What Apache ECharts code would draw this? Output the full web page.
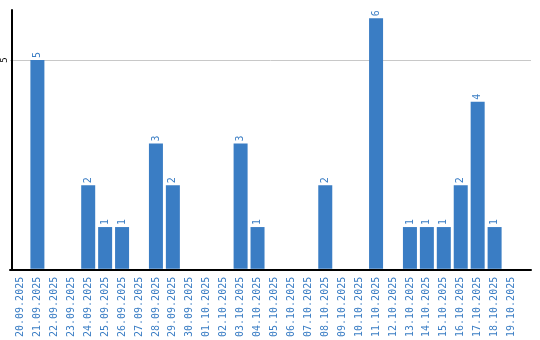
<!DOCTYPE html>
<html><head><meta charset="utf-8">
<script src="https://cdn.jsdelivr.net/npm/echarts@6/dist/echarts.min.js"></script>
<style>html,body{margin:0;padding:0;background:#fff}#c{width:540px;height:340px}</style>
</head><body><div id="c"></div>
<script>
const categories = ["20.09.2025","21.09.2025","22.09.2025","23.09.2025","24.09.2025","25.09.2025","26.09.2025","27.09.2025","28.09.2025","29.09.2025","30.09.2025","01.10.2025","02.10.2025","03.10.2025","04.10.2025","05.10.2025","06.10.2025","07.10.2025","08.10.2025","09.10.2025","10.10.2025","11.10.2025","12.10.2025","13.10.2025","14.10.2025","15.10.2025","16.10.2025","17.10.2025","18.10.2025","19.10.2025"];
const values = [0,5,0,0,2,1,1,0,3,2,0,0,0,3,1,0,0,0,2,0,0,6,0,1,1,1,2,4,1,0];
const yTicks = [5];
const blue = '#3a7dc4';
const H = 340, TOP = 10, BOTTOM = 70, YMAX = 6.2;
const plotH = H - TOP - BOTTOM;
const gridLineTop = TOP + plotH * (1 - yTicks[0] / YMAX);
const chart = echarts.init(document.getElementById('c'));
chart.setOption({
  animation: false,
  grid: [
    {left: 10, right: 20, top: TOP, bottom: BOTTOM, containLabel: false},
    {left: 10, right: 9, top: gridLineTop, bottom: BOTTOM, containLabel: false}
  ],
  xAxis: [{
    type: 'category', data: categories, gridIndex: 0,
    axisLine: {show: false},
    axisTick: {show: false},
    axisLabel: {rotate: 90, color: blue, fontFamily: 'DejaVu Sans Mono', fontSize: 10, interval: 0, margin: 8}
  }, {
    type: 'value', gridIndex: 1, min: 0, max: 1,
    axisLine: {show: true, onZero: false, lineStyle: {color: '#000', width: 2}},
    axisTick: {show: false}, axisLabel: {show: false}, splitLine: {show: false}
  }],
  yAxis: [{
    type: 'value', gridIndex: 0, min: 0, max: YMAX, interval: 5,
    axisLine: {show: true, lineStyle: {color: '#000', width: 2}},
    axisTick: {show: false},
    splitLine: {show: false},
    axisLabel: {rotate: 90, color: '#000', fontFamily: 'DejaVu Sans Mono', fontSize: 9, margin: 3,
      formatter: v => yTicks.includes(v) ? String(v) : ''}
  }, {
    type: 'value', gridIndex: 1, min: 0, max: yTicks[0], interval: yTicks[0],
    axisLine: {show: false}, axisTick: {show: false}, axisLabel: {show: false},
    splitLine: {show: true, lineStyle: {color: '#c8c8c8', width: 1}}
  }],
  series: [{
    type: 'bar', xAxisIndex: 0, yAxisIndex: 0, z: 3,
    data: values.map(v => v === 0 ? null : v), barWidth: 14,
    itemStyle: {color: blue},
    label: {show: true, position: 'top', rotate: 90, align: 'left', verticalAlign: 'middle', distance: 2,
      color: blue, fontFamily: 'DejaVu Sans Mono', fontSize: 10}
  }]
});
</script></body></html>
